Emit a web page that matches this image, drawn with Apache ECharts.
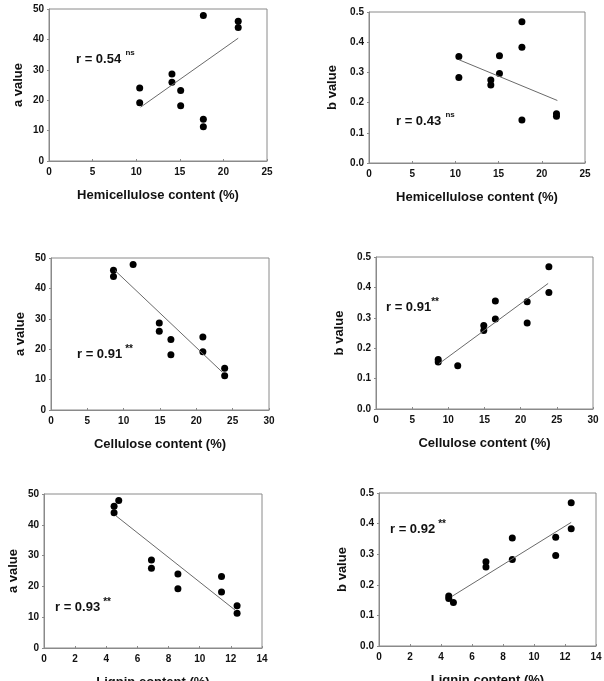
<!DOCTYPE html>
<html>
<head>
<meta charset="utf-8">
<script src="https://cdn.jsdelivr.net/npm/echarts@6/dist/echarts.min.js"></script>
<style>
  html, body { margin: 0; padding: 0; background: #fff; }
  #chart { width: 604px; height: 681px; }
</style>
</head>
<body>
<div id="chart"></div>
<script>
// 样本数据（11个样本）
const hemicellulose = [21.7, 21.7, 17.7, 14.1, 14.1, 10.4, 10.4, 15.1, 15.1, 17.7, 17.7];
const cellulose     = [8.6, 8.6, 11.3, 14.9, 14.9, 20.9, 20.9, 16.5, 16.5, 23.9, 23.9];
const lignin        = [4.5, 4.5, 4.8, 6.9, 6.9, 8.6, 8.6, 11.4, 11.4, 12.4, 12.4];
const aValue        = [46.0, 43.9, 47.9, 28.6, 25.9, 24.0, 19.2, 23.2, 18.2, 13.7, 11.3];
const bValue        = [0.163, 0.155, 0.142, 0.275, 0.258, 0.353, 0.283, 0.355, 0.296, 0.468, 0.383];

// 回归线端点
const fitHemiA = [[10.5, 17.7], [21.7, 40.4]];
const fitHemiB = [[10.4, 0.342], [21.8, 0.207]];
const fitCellA = [[8.8, 45.9], [23.6, 12.4]];
const fitCellB = [[8.7, 0.149], [23.8, 0.413]];
const fitLigA  = [[4.6, 43.0], [12.3, 12.2]];
const fitLigB  = [[4.7, 0.162], [12.4, 0.404]];

// 标注
const rTexts = [
  {r: 'r = 0.54', sup: 'ns', gap: 3},
  {r: 'r = 0.43', sup: 'ns', gap: 3},
  {r: 'r = 0.91', sup: '**', gap: 3},
  {r: 'r = 0.91', sup: '**', gap: 0},
  {r: 'r = 0.93', sup: '**', gap: 3},
  {r: 'r = 0.92', sup: '**', gap: 3}
];

const xNames = ['Hemicellulose content (%)', 'Hemicellulose content (%)',
  'Cellulose content (%)', 'Cellulose content (%)',
  'Lignin content (%)', 'Lignin content (%)'];
const yNames = ['a value', 'b value', 'a value', 'b value', 'a value', 'b value'];
const xMax = [25, 25, 30, 30, 14, 14];
const xStep = [5, 5, 5, 5, 2, 2];

const xs = [hemicellulose, hemicellulose, cellulose, cellulose, lignin, lignin];
const ys = [aValue, bValue, aValue, bValue, aValue, bValue];
const fits = [fitHemiA, fitHemiB, fitCellA, fitCellB, fitLigA, fitLigB];

const grids = [
  {left: 49, top: 9, width: 218, height: 152},
  {left: 369, top: 12, width: 216, height: 151},
  {left: 51, top: 258, width: 218, height: 152},
  {left: 376, top: 257, width: 217, height: 152},
  {left: 44, top: 494, width: 218, height: 154},
  {left: 379, top: 493, width: 217, height: 153}
];
const rPos = [[76, 57], [396, 119], [77, 352], [386, 305], [55, 605], [390, 527]];

const font = '"Liberation Sans", Arial, sans-serif';
const axisColor = '#8a8a8a';

const chart = echarts.init(document.getElementById('chart'));

const option = {
  backgroundColor: '#fff',
  animation: false,
  grid: grids.map(g => Object.assign({show: true, borderColor: axisColor, borderWidth: 1,
    containLabel: false, outerBoundsMode: 'none'}, g)),
  xAxis: grids.map((g, i) => ({
    type: 'value', gridIndex: i, min: 0, max: xMax[i], interval: xStep[i],
    name: xNames[i], nameLocation: 'middle', nameGap: 28,
    nameTextStyle: {fontFamily: font, fontWeight: 'bold', fontSize: 13, color: '#111'},
    axisLine: {show: true, lineStyle: {color: axisColor, width: 1}},
    axisTick: {show: true, inside: true, length: 2, lineStyle: {color: axisColor}},
    axisLabel: {fontFamily: font, fontWeight: 'bold', fontSize: 10, color: '#111', margin: 6},
    splitLine: {show: false}
  })),
  yAxis: grids.map((g, i) => ({
    type: 'value', gridIndex: i, min: 0, max: i % 2 ? 0.5 : 50, interval: i % 2 ? 0.1 : 10,
    name: yNames[i], nameLocation: 'middle', nameGap: i % 2 ? 30 : 24,
    nameTextStyle: {fontFamily: font, fontWeight: 'bold', fontSize: 13, color: '#111'},
    axisLine: {show: true, lineStyle: {color: axisColor, width: 1}},
    axisTick: {show: true, inside: false, length: 2, lineStyle: {color: axisColor}},
    axisLabel: {fontFamily: font, fontWeight: 'bold', fontSize: 10, color: '#111', margin: 5,
      formatter: v => i % 2 ? v.toFixed(1) : String(v)},
    splitLine: {show: false}
  })),
  series: [],
  graphic: rTexts.map((t, i) => ({
    type: 'text', left: rPos[i][0], top: rPos[i][1] - 8,
    style: {
      text: '{r|' + t.r + '}{s|' + (t.sup === 'ns' ? ' ' : '') + t.sup + '}',
      rich: {
        r: {fontFamily: font, fontWeight: 'bold', fontSize: 13, fill: '#111', padding: [4, 0, 0, 0]},
        s: {fontFamily: font, fontWeight: 'bold', fontSize: t.sup === 'ns' ? 8 : 10, fill: '#111',
          verticalAlign: 'top', padding: t.sup === 'ns' ? [0, 0, 6, 2] : [0, 0, 4, t.gap]}
      }
    }
  }))
};

for (let i = 0; i < 6; i++) {
  option.series.push({
    type: 'line', xAxisIndex: i, yAxisIndex: i,
    data: fits[i], symbol: 'none', silent: true,
    lineStyle: {color: '#6a6a6a', width: 1}
  });
  option.series.push({
    type: 'scatter', xAxisIndex: i, yAxisIndex: i,
    data: xs[i].map((x, k) => [x, ys[i][k]]),
    symbol: 'circle', symbolSize: 7,
    itemStyle: {color: '#000', opacity: 1}
  });
}

chart.setOption(option);
</script>
</body>
</html>
